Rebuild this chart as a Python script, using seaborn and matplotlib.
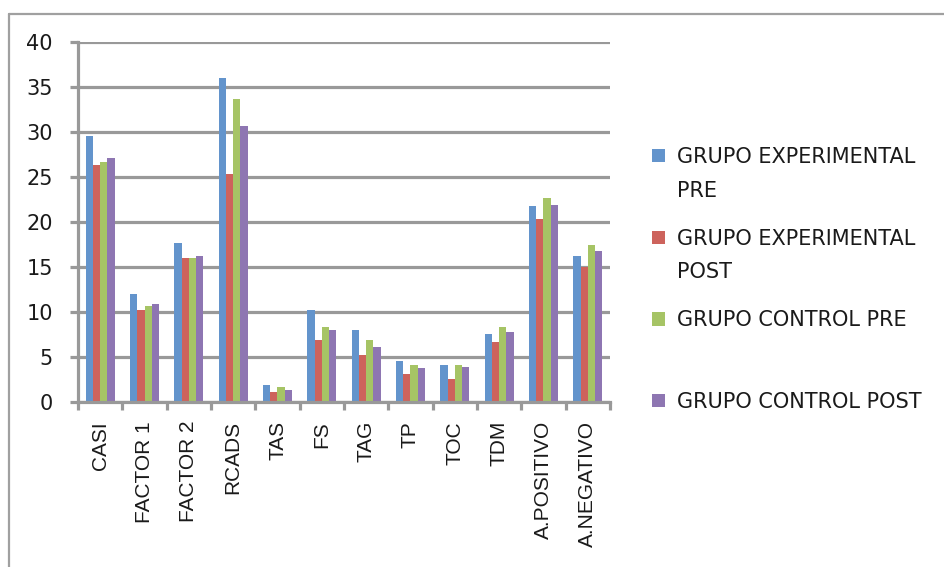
import matplotlib
matplotlib.use("Agg")
import matplotlib.pyplot as plt
from matplotlib.patches import Patch
from matplotlib.lines import Line2D
import numpy as np
import pandas as pd
import seaborn as sns

categories = ["CASI", "FACTOR 1", "FACTOR 2", "RCADS", "TAS", "FS", "TAG",
              "TP", "TOC", "TDM", "A.POSITIVO", "A.NEGATIVO"]
exp_pre = [29.5, 11.9, 17.6, 36.0, 1.8, 10.2, 7.9, 4.5, 4.1, 7.5, 21.7, 16.2]
exp_post = [26.3, 10.2, 16.0, 25.3, 1.1, 6.8, 5.2, 3.1, 2.5, 6.6, 20.3, 15.0]
ctrl_pre = [26.6, 10.6, 16.0, 33.6, 1.6, 8.3, 6.8, 4.1, 4.1, 8.3, 22.6, 17.4]
ctrl_post = [27.1, 10.8, 16.2, 30.6, 1.3, 7.9, 6.1, 3.7, 3.8, 7.7, 21.9, 16.7]
series_names = ["GRUPO EXPERIMENTAL PRE", "GRUPO EXPERIMENTAL POST",
                "GRUPO CONTROL PRE", "GRUPO CONTROL POST"]
legend_line1 = ["GRUPO EXPERIMENTAL", "GRUPO EXPERIMENTAL",
                "GRUPO CONTROL PRE", "GRUPO CONTROL POST"]
legend_line2 = ["PRE", "POST", "", ""]
colors = ["#6394CC", "#CD635C", "#A6C465", "#8E76B2"]
yticks = [0, 5, 10, 15, 20, 25, 30, 35, 40]

rows = []
for name, vals in zip(series_names, [exp_pre, exp_post, ctrl_pre, ctrl_post]):
    for c, v in zip(categories, vals):
        rows.append({"cat": c, "val": v, "grupo": name})
df = pd.DataFrame(rows)

sns.set_style("white")
W, H = 945, 567
fig = plt.figure(figsize=(W / 100, H / 100), dpi=100)
ax = fig.add_axes([78 / W, 1 - 401.5 / H, (610 - 78) / W, (401.5 - 41.7) / H])

sns.barplot(data=df, x="cat", y="val", hue="grupo", order=categories,
            hue_order=series_names, palette=colors, width=0.654,
            saturation=1, legend=False, ax=ax, linewidth=0, zorder=3)

grid_col = "#999999"
ax.set_xlim(-0.5, len(categories) - 0.5)
ax.set_ylim(0, 40)
ax.set_yticks(yticks)
ax.set_yticklabels([str(t) for t in yticks], fontsize=15,
                   family="DejaVu Sans", color="#1a1a1a")
ax.set_axisbelow(True)
ax.yaxis.grid(True, color=grid_col, linewidth=2.3)
ax.xaxis.grid(False)

ax.set_xticks(np.arange(-0.5, len(categories), 1.0))
ax.set_xticklabels([""] * (len(categories) + 1))
ax.set_xticks(np.arange(len(categories)), minor=True)
ax.set_xticklabels(categories, minor=True, rotation=90, fontsize=15,
                   family="Liberation Sans", color="#1a1a1a", va="top")
ax.tick_params(axis="x", which="major", direction="out", length=6,
               width=2.3, color=grid_col, bottom=True)
ax.tick_params(axis="x", which="minor", length=0, pad=14)
ax.tick_params(axis="y", direction="out", length=6, width=2.3,
               color=grid_col, pad=12, left=True)
ax.set_xlabel("")
ax.set_ylabel("")
for s in ["top", "right"]:
    ax.spines[s].set_visible(False)
for s in ["left", "bottom"]:
    ax.spines[s].set_color(grid_col)
    ax.spines[s].set_linewidth(2.3)
    ax.spines[s].set_zorder(4)

# outer chart frame (left and top edges visible)
fig.add_artist(Line2D([9 / W, 9 / W], [0, 1 - 14 / H], transform=fig.transFigure,
                      color="#a0a0a0", linewidth=1.6))
fig.add_artist(Line2D([9 / W, 1], [1 - 14 / H, 1 - 14 / H], transform=fig.transFigure,
                      color="#a0a0a0", linewidth=1.6))

handles = [Patch(facecolor=c, edgecolor="none") for c in colors]
leg = fig.legend(handles, legend_line1, loc="upper left",
                 bbox_to_anchor=(652 / W, 1 - 147 / H), frameon=False,
                 borderpad=0, borderaxespad=0,
                 prop={"family": "DejaVu Sans", "size": 15},
                 handlelength=0.62, handleheight=0.62, handletextpad=0.6,
                 labelspacing=2.96)
for t in leg.get_texts():
    t.set_color("#1a1a1a")

for i, l2 in enumerate(legend_line2):
    if l2:
        fig.text(677 / W, 1 - (196.7 + 81.2 * i) / H, l2, fontsize=15,
                 family="DejaVu Sans", color="#1a1a1a", va="baseline", ha="left")

fig.savefig("out.png", dpi=100)
